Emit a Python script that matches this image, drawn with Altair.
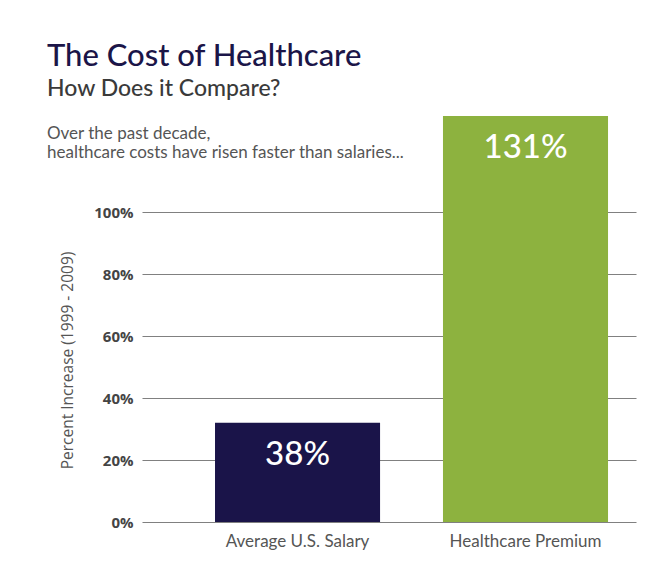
import altair as alt
import pandas as pd

categories = ["Average U.S. Salary", "Healthcare Premium"]
bar_values = [32, 131]
value_labels = ["38%", "131%"]
bar_colors = ["#1a1449", "#8db23f"]
tick_values = [0, 20, 40, 60, 80, 100]
note_lines = ["Over the past decade,", "healthcare costs have risen faster than salaries..."]

df = pd.DataFrame({"cat": categories, "val": bar_values, "lab": value_labels, "col": bar_colors})

x = alt.X("cat:N", sort=categories,
          scale=alt.Scale(paddingInner=0.276, paddingOuter=0.2215, align=0.723),
          axis=alt.Axis(title=None, labelAngle=0, ticks=False, domain=False, grid=False,
                        labelPadding=11, labelFontSize=17, labelColor="#555555",
                        labelFont="Lato"))
y = alt.Y("val:Q", scale=alt.Scale(domain=[0, 131], nice=False),
          axis=alt.Axis(values=tick_values, labelExpr="datum.value + '%'",
                        title="Percent Increase (1999 - 2009)", ticks=False, domain=False,
                        grid=True, gridColor="#808080", gridWidth=1.2,
                        labelPadding=9, labelFontSize=15, labelFontWeight="bold",
                        labelColor="#444444", labelFont="Open Sans",
                        titleFont="Open Sans", titleFontWeight="normal", titleFontSize=15.5,
                        titleColor="#555555", titleX=-75, titleY=244, titleAngle=-90,
                        titleAlign="center", titleBaseline="middle"))

bars = alt.Chart(df).mark_bar().encode(
    x=x, y=y, color=alt.Color("col:N", scale=None)
)
labels = alt.Chart(df).mark_text(baseline="middle", dy=32, color="white",
                                 fontSize=33, font="Lato", fontWeight=500).encode(
    x=alt.X("cat:N", sort=categories), y="val:Q", text="lab:N"
)
note = alt.Chart(pd.DataFrame({"t": [note_lines]})).mark_text(
    align="left", baseline="alphabetic", fontSize=17, font="Lato", color="#555555",
    lineHeight=19
).encode(text="t", x=alt.value(-95), y=alt.value(23))

chart = alt.layer(bars, labels, note).properties(
    width=494, height=406,
    background="white",
    autosize=alt.AutoSizeParams(type="none"),
    padding={"left": 134, "top": 108, "right": 14, "bottom": 45},
    title=alt.TitleParams(
        text="The Cost of Healthcare", subtitle="How Does it Compare?",
        anchor="start", frame="group", dx=-95, offset=14,
        fontSize=31, font="Lato", fontWeight=500, color="#1b1548",
        subtitleFontSize=23, subtitleFont="Lato", subtitleFontWeight=500,
        subtitleColor="#3a3a3a", subtitlePadding=5
    )
).configure_view(strokeWidth=0, stroke=None)

chart.save("out.html", embed_options={"renderer": "svg", "actions": False})
